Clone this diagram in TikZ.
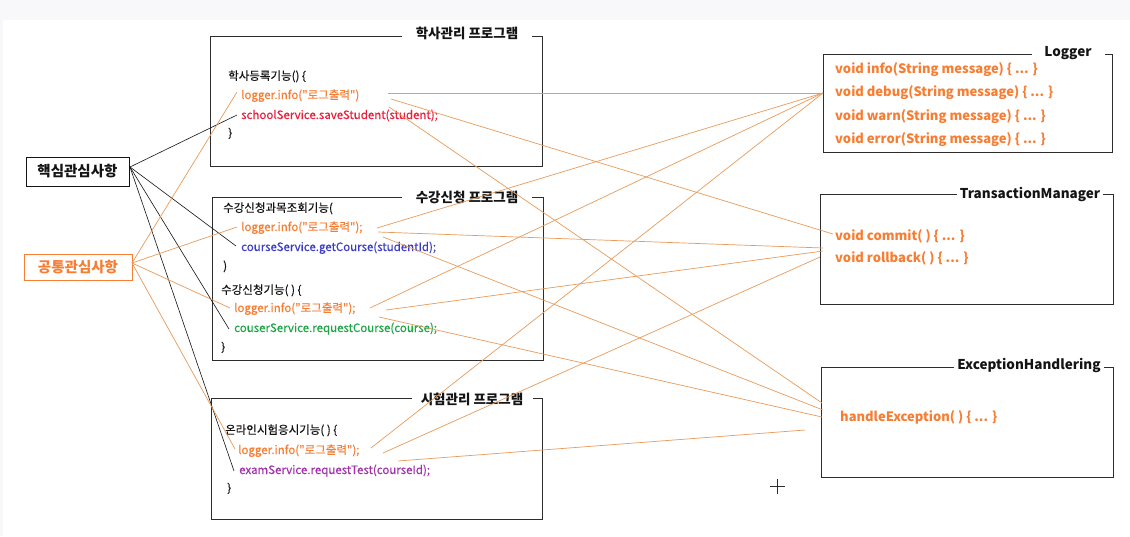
\documentclass[tikz,border=0pt]{standalone}
\usepackage{fontspec}
\setmainfont{Noto Sans CJK KR}[Ligatures=TeXOff]
\newfontfamily\codefont{Noto Sans CJK KR}[Ligatures=TeXOff, FakeBold=0.35]
\definecolor{txorange}{RGB}{247,125,50}
\definecolor{lnorange}{RGB}{232,155,90}
\definecolor{cred}{RGB}{235,30,60}
\definecolor{cblue}{RGB}{60,60,200}
\definecolor{cgreen}{RGB}{30,165,70}
\definecolor{cpurple}{RGB}{160,50,170}
\definecolor{ink}{RGB}{20,20,20}
\definecolor{boxline}{RGB}{45,45,45}
\definecolor{band}{RGB}{248,247,250}
\tikzset{
  code/.style={anchor=base west, inner sep=0pt, font=\codefont\fontsize{11.5}{13}\selectfont},
  meth/.style={anchor=base west, inner sep=0pt, text=txorange, font=\fontsize{13}{15}\selectfont\bfseries},
  progbox/.style={draw=boxline, line width=1pt},
  ttl/.style={fill=white, inner ysep=1pt, text=ink, font=\fontsize{13.5}{15}\selectfont\bfseries},
  concern/.style={draw, line width=1pt, inner sep=0pt, font=\fontsize{14.5}{16}\selectfont\bfseries},
  blackline/.style={draw=ink, line width=0.6pt},
  orangeline/.style={draw=lnorange, line width=0.7pt}
}
\begin{document}
\begin{tikzpicture}[x=1pt,y=-1pt]
\useasboundingbox (0,0) rectangle (1130,536);
\fill[white] (0,0) rectangle (1130,536);
\fill[band] (0,0) rectangle (1130,20);
\fill[band] (0,20) rectangle (3,536);

% program boxes
\draw[progbox] (210,36) rectangle (542,166);
\node[ttl, minimum width=130pt] (t1) at (467,33) {학사관리 프로그램};
\draw[progbox] (212,197) rectangle (543,360);
\node[ttl, minimum width=130pt] (t2) at (467,197) {수강신청 프로그램};
\draw[progbox] (211,398) rectangle (542,519);
\node[ttl, minimum width=121pt] (t3) at (472,399) {시험관리 프로그램};

% right boxes
\draw[progbox] (823,54) rectangle (1112,152);
\node[ttl, minimum width=73pt] (t4) at (1068,53) {Logger};
\draw[progbox] (820,194) rectangle (1113,304);
\node[ttl, minimum width=141pt] (t5) at (1030,194) {TransactionManager};
\draw[progbox] (821,367) rectangle (1113,477);
\node[ttl, minimum width=148pt] (t6) at (1029,365) {ExceptionHandlering};

% code texts
\node[code, text=ink] (a0) at (228,80) {학사등록기능() \{};
\node[code, text=txorange] (a1) at (241,99) {logger.info("로그출력")};
\node[code, text=cred] (a2) at (241,119) {schoolService.saveStudent(student);};
\node[code, text=ink] (a3) at (228,137) {\}};

\node[code, text=ink] (b0) at (223,212) {수강신청과목조회기능(};
\node[code, text=txorange] (b1) at (241,231) {logger.info("로그출력");};
\node[code, text=cblue] (b2) at (241,251) {courseService.getCourse(studentId);};
\node[code, text=ink] (b3) at (223,270) {)};
\node[code, text=ink] (b4) at (221,294) {수강신청기능( ) \{};
\node[code, text=txorange] (b5) at (234,312) {logger.info("로그출력");};
\node[code, text=cgreen] (b6) at (234,332) {couserService.requestCourse(course);};
\node[code, text=ink] (b7) at (221,351) {\}};

\node[code, text=ink] (c0) at (225,434) {온라인시험응시기능( ) \{};
\node[code, text=txorange] (c1) at (238,454) {logger.info("로그출력");};
\node[code, text=cpurple] (c2) at (239,474) {examService.requestTest(courseId);};
\node[code, text=ink] (c3) at (227,492) {\}};

% methods
\node[meth] (m1) at (835,73.5) {void info(String message) \{ ... \}};
\node[meth] (m2) at (835,96.5) {void debug(String message) \{ ... \}};
\node[meth] (m3) at (835,120) {void warn(String message) \{ ... \}};
\node[meth] (m4) at (835,143.5) {void error(String message) \{ ... \}};
\node[meth] (m5) at (835,240) {void commit( ) \{ ... \}};
\node[meth] (m6) at (835,262.5) {void rollback( ) \{ ... \}};
\node[meth] (m7) at (840,421.5) {handleException( ) \{ ... \}};

% concern boxes
\node[concern, draw=ink, text=ink, minimum width=103pt, minimum height=29pt] (core) at (77.5,171.5) {핵심관심사항};
\node[concern, draw=txorange, text=txorange, minimum width=108pt, minimum height=26pt] (cross) at (78,267) {공통관심사항};

% attach points
\coordinate (coreP) at (130,167);
\coordinate (crossP) at (132,263);
\coordinate (a1in) at (237,92);
\coordinate (a2in) at (237,115);
\coordinate (b1in) at (237,227);
\coordinate (b2in) at (236,246);
\coordinate (b5in) at (230,308);
\coordinate (b6in) at (229,329);
\coordinate (c1in) at (235,449);
\coordinate (c2in) at (234,471);

\coordinate (a1o1) at (388,93);
\coordinate (a1o2) at (391,99);
\coordinate (a1o3) at (389,107);
\coordinate (b1o1) at (377,228);
\coordinate (b1o2) at (378,232);
\coordinate (b1o3) at (383,237);
\coordinate (b5o1) at (370,308);
\coordinate (b5o2) at (386,310);
\coordinate (b5o3) at (379,317);
\coordinate (c1o1) at (371,448);
\coordinate (c1o2) at (383,453);
\coordinate (c1o3) at (398,461);

\coordinate (logIn) at (823,93);
\coordinate (trA) at (833,234);
\coordinate (trB) at (823,248);
\coordinate (trC) at (823,251);
\coordinate (trD) at (820,257);
\coordinate (exA) at (822,403);
\coordinate (exB) at (823,410);
\coordinate (exC) at (822,417);
\coordinate (exFree) at (805,430);

% core concern lines
\draw[blackline] (coreP) -- (a2in);
\draw[blackline] (coreP) -- (b2in);
\draw[blackline] (coreP) -- (b6in);
\draw[blackline] (coreP) -- (c2in);

% cross-cutting concern lines
\draw[orangeline] (crossP) -- (a1in);
\draw[orangeline] (crossP) -- (b1in);
\draw[orangeline] (crossP) -- (b5in);
\draw[orangeline] (crossP) -- (c1in);

% to Logger
\draw[orangeline] (a1o1) -- (logIn);
\draw[orangeline] (b1o1) -- (logIn);
\draw[orangeline] (b5o1) -- (logIn);
\draw[orangeline] (c1o1) -- (logIn);
% to TransactionManager
\draw[orangeline] (a1o2) -- (trA);
\draw[orangeline] (b1o2) -- (trB);
\draw[orangeline] (b5o2) -- (trC);
\draw[orangeline] (c1o2) -- (trD);
% to ExceptionHandlering
\draw[orangeline] (a1o3) -- (exA);
\draw[orangeline] (b1o3) -- (exB);
\draw[orangeline] (b5o3) -- (exC);
\draw[orangeline] (c1o3) -- (exFree);

% cursor mark
\draw[boxline, line width=1pt] (770,486) -- (785,486);
\draw[boxline, line width=1pt] (777.5,479) -- (777.5,494);
\end{tikzpicture}
\end{document}
